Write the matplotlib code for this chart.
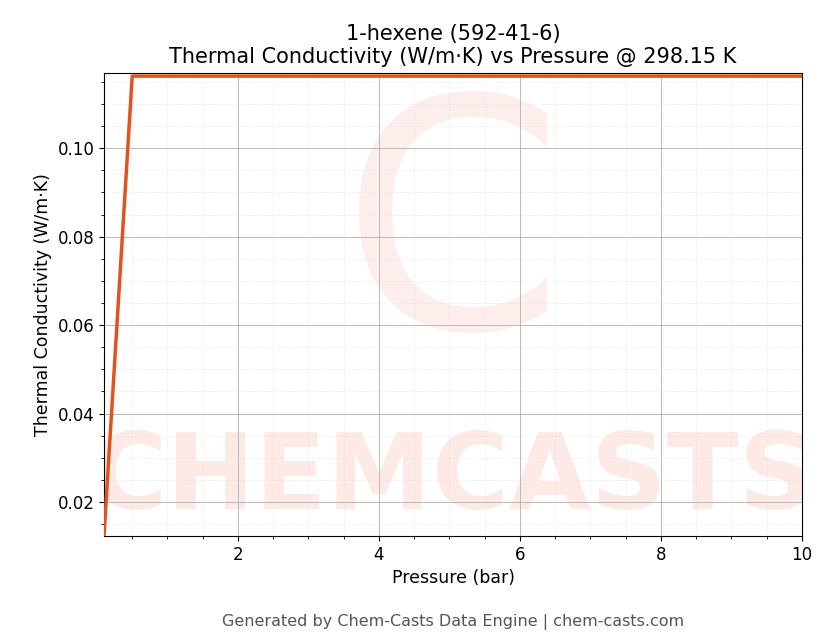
import matplotlib
matplotlib.use("Agg")
import matplotlib.pyplot as plt
from matplotlib.ticker import AutoMinorLocator

pressure = [0.1, 0.5, 1.0, 2.0, 4.0, 6.0, 8.0, 10.0]
conductivity = [0.0123, 0.1163, 0.1163, 0.1163, 0.1163, 0.1163, 0.1163, 0.1163]

fig = plt.figure(figsize=(8.3, 6.44), dpi=100)
ax = fig.add_axes([104/830, 1-536/644, (802-104)/830, (536-73)/644])

# faint watermark, clipped to the axes
ax.text(0.5, 0.12, "CHEMCASTS", transform=ax.transAxes, ha="center", va="center",
        fontsize=76, fontweight="bold", color="#fdeae7", zorder=0, clip_on=True)
ax.text(0.5, 0.64, "C", transform=ax.transAxes, ha="center", va="center",
        fontsize=230, color="#fdeeec", zorder=0, clip_on=True)

ax.plot(pressure, conductivity, color="#e0531f", lw=2.5, zorder=3)
ax.set_xlim(0.1, 10)
ax.set_ylim(0.0123, 0.117)
ax.set_xticks([2, 4, 6, 8, 10])
ax.set_yticks([0.02, 0.04, 0.06, 0.08, 0.10])
ax.xaxis.set_minor_locator(AutoMinorLocator(4))
ax.yaxis.set_minor_locator(AutoMinorLocator(4))
ax.grid(which="major", color="#b0b0b0", lw=0.6)
ax.grid(which="minor", color="#d8d8d8", lw=0.4, ls=":")
ax.tick_params(labelsize=12)
ax.set_xlabel("Pressure (bar)", fontsize=12.5)
ax.set_ylabel("Thermal Conductivity (W/m·K)", fontsize=12.5)
ax.set_title("1-hexene (592-41-6)\nThermal Conductivity (W/m·K) vs Pressure @ 298.15 K",
             fontsize=15, pad=7)
fig.text(0.546, 0.028, "Generated by Chem-Casts Data Engine | chem-casts.com",
         ha="center", fontsize=11.5, color="#555555")
fig.savefig("out.png", dpi=100)
